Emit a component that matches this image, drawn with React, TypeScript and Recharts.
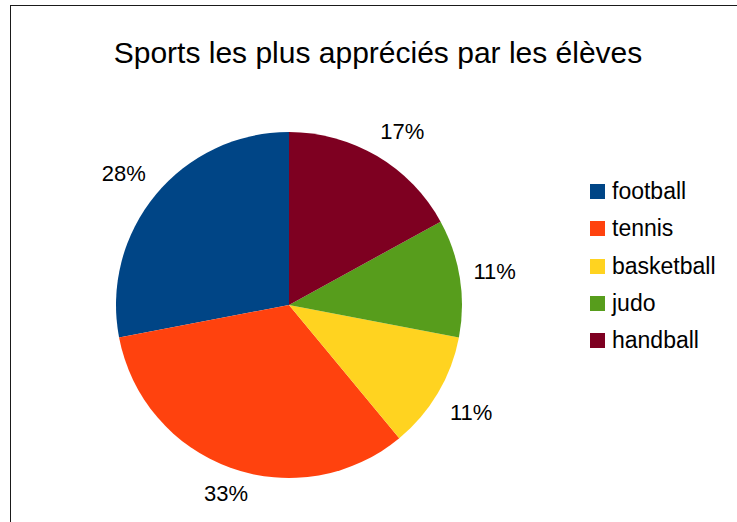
import React from "react"
import { PieChart, Pie, Cell, Legend } from "recharts"

const sports = ["football", "tennis", "basketball", "judo", "handball"]
const shares = [28, 33, 11, 11, 17]
const colors = ["#004586", "#ff420e", "#ffd320", "#579d1c", "#7e0021"]

const data = sports.map((name, i) => ({ name, value: shares[i] }))

const FONT = "'Liberation Sans', Arial, sans-serif"
const RAD = Math.PI / 180
const clamp = (v: number) => Math.max(0, Math.min(1, v))

// label box placed just outside the rim, shifted away from the pie by its own size
function renderLabel(props: any) {
    const { cx, cy, midAngle, outerRadius, percent } = props
    const c = Math.cos(-midAngle * RAD)
    const s = Math.sin(-midAngle * RAD)
    const r = outerRadius + 13
    const ox = 22 * Math.sign(c) * clamp((Math.abs(c) - 0.34) / 0.2)
    const oy = 13 * Math.sign(s) * clamp(Math.abs(s) * 2)
    return (
        <text
            x={cx + r * c + ox}
            y={cy + r * s + oy}
            textAnchor="middle"
            dominantBaseline="central"
            fontSize={22}
            fontFamily={FONT}
            fill="#000"
        >
            {`${Math.round(percent * 100)}%`}
        </text>
    )
}

function LegendList({ payload }: any) {
    const items = [...(payload || [])].sort(
        (a: any, b: any) => sports.indexOf(a.value) - sports.indexOf(b.value)
    )
    return (
        <div style={{ fontFamily: FONT, fontSize: 23, color: "#000" }}>
            {items.map((entry: any) => (
                <div key={entry.value} style={{ height: 37.25, display: "flex", alignItems: "center" }}>
                    <span style={{ width: 15, height: 15, background: entry.color, marginRight: 7, display: "inline-block" }} />
                    <span>{entry.value}</span>
                </div>
            ))}
        </div>
    )
}

export default function App() {
    return (
        <div style={{ position: "absolute", left: 0, top: 0, width: 737, height: 522, background: "#fff" }}>
            <div style={{ position: "absolute", left: 10, top: 5, right: 0, bottom: 0, borderLeft: "1px solid #1a1a1a", borderTop: "1px solid #1a1a1a" }} />
            <div style={{ position: "absolute", left: 0, width: 756, top: 38, textAlign: "center", fontFamily: FONT, fontSize: 30, lineHeight: "30px", color: "#000" }}>
                Sports les plus appréciés par les élèves
            </div>
            <div style={{ position: "absolute", left: 0, top: 0 }}>
                <PieChart width={737} height={522} margin={{ top: 0, right: 0, bottom: 0, left: 0 }}>
                    <Pie
                        data={data}
                        dataKey="value"
                        nameKey="name"
                        cx={289}
                        cy={305}
                        outerRadius={173}
                        startAngle={90}
                        endAngle={450}
                        stroke="none"
                        label={renderLabel}
                        labelLine={false}
                        isAnimationActive={false}
                    >
                        {data.map((d, i) => (
                            <Cell key={d.name} fill={colors[i]} />
                        ))}
                    </Pie>
                    <Legend
                        layout="vertical"
                        align="right"
                        verticalAlign="top"
                        content={<LegendList />}
                        wrapperStyle={{ left: 590, top: 173, width: 140 }}
                    />
                </PieChart>
            </div>
        </div>
    )
}
